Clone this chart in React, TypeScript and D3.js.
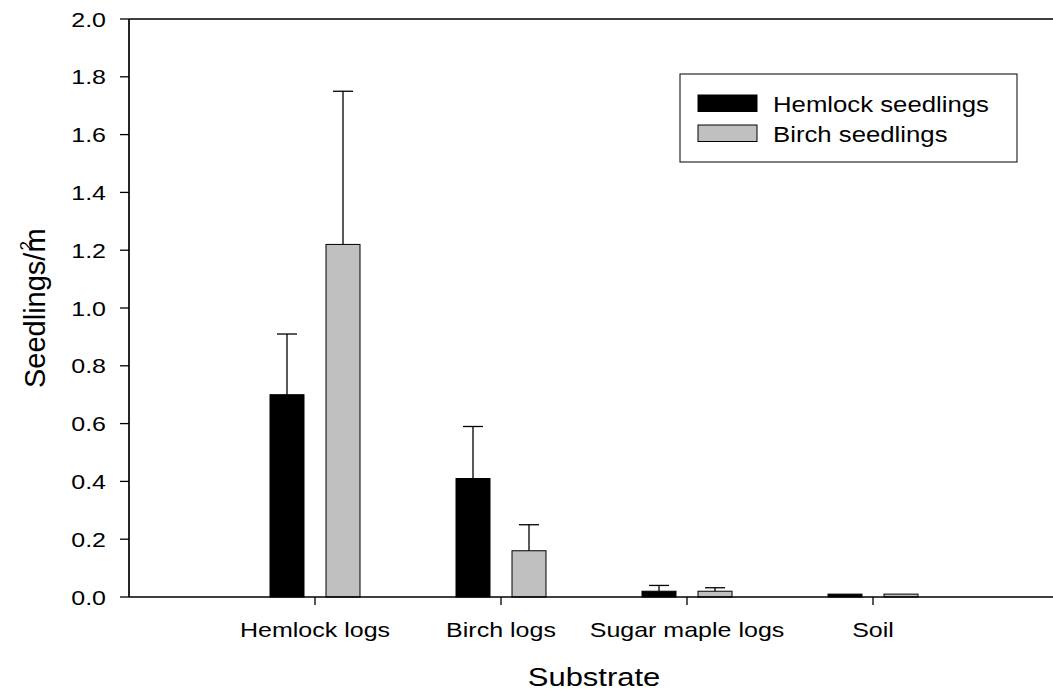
import React from "react";
import * as d3 from "d3";

// Seedling density by substrate type (mean + 1 SE)
const categories = ["Hemlock logs", "Birch logs", "Sugar maple logs", "Soil"];
const hemlockMeans = [0.70, 0.41, 0.02, 0.01];
const hemlockSE = [0.21, 0.18, 0.02, 0];
const birchMeans = [1.22, 0.16, 0.02, 0.01];
const birchSE = [0.53, 0.09, 0.012, 0];
const yTicks = [0, 0.2, 0.4, 0.6, 0.8, 1.0, 1.2, 1.4, 1.6, 1.8, 2.0];

const series = [
  { name: "Hemlock seedlings", means: hemlockMeans, se: hemlockSE, fill: "#000000", offset: -1 },
  { name: "Birch seedlings", means: birchMeans, se: birchSE, fill: "#c0c0c0", offset: 1 },
];

const W = 1053;
const H = 694;
const left = 129;
const top = 19;
const bottom = 597;
const step = 186;
const FONT = "'Liberation Sans', Arial, Helvetica, sans-serif";

export default function App() {
  const x = d3
    .scaleBand<string>()
    .domain(categories)
    .range([left + step / 2, left + step / 2 + step * categories.length])
    .padding(0);
  const y = d3.scaleLinear().domain([0, 2]).range([bottom, top]);

  const barW = 34;
  const gap = 11;
  const capW = 20;

  const cx = (c: string) => (x(c) as number) + x.bandwidth() / 2;

  // text with a slight horizontal stretch
  const stretched = (tx: number, ty: number, sx = 1.22) =>
    `translate(${tx},${ty}) scale(${sx},1)`;

  return (
    <svg
      width={W}
      height={H}
      style={{ position: "absolute", left: 0, top: 0, background: "#fff" }}
      fontFamily={FONT}
    >
      <rect x={0} y={0} width={W} height={H} fill="#fff" />

      {/* bars and error bars */}
      {series.map((s) =>
        categories.map((c, i) => {
          const x0 = s.offset < 0 ? cx(c) - gap - barW : cx(c) + gap;
          const yTop = y(s.means[i]);
          const mid = x0 + barW / 2;
          const yErr = y(s.means[i] + s.se[i]);
          return (
            <g key={s.name + c}>
              {s.se[i] > 0 && (
                <g stroke="#000" strokeWidth={1.3}>
                  <line x1={mid} x2={mid} y1={yTop} y2={yErr} />
                  <line x1={mid - capW / 2} x2={mid + capW / 2} y1={yErr} y2={yErr} />
                </g>
              )}
              <rect
                x={x0}
                y={yTop}
                width={barW}
                height={bottom - yTop}
                fill={s.fill}
                stroke="#000"
                strokeWidth={1}
              />
            </g>
          );
        })
      )}

      {/* frame */}
      <g stroke="#000" strokeWidth={1.7} fill="none">
        <line x1={left} x2={W} y1={top} y2={top} />
        <line x1={left} x2={W} y1={bottom} y2={bottom} />
        <line x1={left} x2={left} y1={top} y2={bottom} />
      </g>

      {/* y axis */}
      {yTicks.map((t) => (
        <g key={t}>
          <line x1={left - 9} x2={left} y1={y(t)} y2={y(t)} stroke="#000" strokeWidth={1.3} />
          <text
            transform={stretched(106, y(t) + 7.5)}
            textAnchor="end"
            fontSize={20.5}
            fill="#000"
          >
            {d3.format(".1f")(t)}
          </text>
        </g>
      ))}

      {/* x axis */}
      {categories.map((c) => (
        <g key={c}>
          <line x1={cx(c)} x2={cx(c)} y1={bottom} y2={bottom + 8} stroke="#000" strokeWidth={1.3} />
          <text transform={stretched(cx(c), 637)} textAnchor="middle" fontSize={20.5} fill="#000">
            {c}
          </text>
        </g>
      ))}

      {/* axis titles */}
      <text transform={stretched(594, 686, 1.19)} textAnchor="middle" fontSize={26} fill="#000">
        Substrate
      </text>
      <text transform="translate(45,388) rotate(-90)" fontSize={29} fill="#000">
        Seedlings/m
        <tspan fontSize={17} dx={-22} dy={-13}>
          2
        </tspan>
      </text>

      {/* legend */}
      <rect x={680} y={74} width={337} height={88} fill="#fff" stroke="#000" strokeWidth={1} />
      {series.map((s, i) => (
        <g key={s.name}>
          <rect
            x={698}
            y={95 + i * 30}
            width={59}
            height={16.5}
            fill={s.fill}
            stroke="#000"
            strokeWidth={1}
          />
          <text transform={stretched(773, 111.5 + i * 30, 1.17)} fontSize={22} fill="#000">
            {s.name}
          </text>
        </g>
      ))}
    </svg>
  );
}
